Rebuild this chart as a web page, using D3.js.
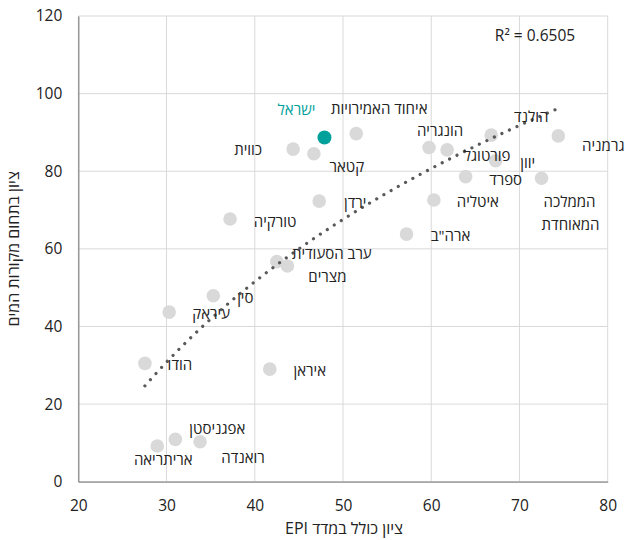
<!DOCTYPE html>
<html><head><meta charset="utf-8">
<script src="https://cdn.jsdelivr.net/npm/d3@7"></script>
<style>
html,body{margin:0;padding:0;background:#fff;}
svg{display:block;font-family:"Open Sans","DejaVu Sans",sans-serif;}
</style></head>
<body>
<svg id="chart" width="625" height="540"></svg>
<script>
// ---- data ----
const countries = ["ישראל","כווית","קטאר","איחוד האמירויות","הונגריה","פורטוגל","הולנד","יוון","גרמניה","ספרד","הממלכה המאוחדת","איטליה","ארה\"ב","ירדן","טורקיה","ערב הסעודית","מצרים","סין","עיראק","הודו","איראן","אפגניסטן","רואנדה","אריתריאה"];
const epiScore   = [47.9, 44.35, 46.7, 51.5, 59.75, 61.8, 66.8, 67.3, 74.4, 63.9, 72.5, 60.3, 57.2, 47.3, 37.2, 42.5, 43.7, 35.3, 30.3, 27.55, 41.7, 31.0, 33.8, 28.95];
const waterScore = [88.7, 85.7, 84.5, 89.7, 86.1, 85.5, 89.3, 82.7, 89.1, 78.6, 78.2, 72.6, 63.8, 72.3, 67.7, 56.7, 55.6, 47.9, 43.7, 30.5, 29.0, 10.9, 10.3, 9.2];
const highlight = "ישראל";
const xTicks = [20, 30, 40, 50, 60, 70, 80];
const yTicks = [0, 20, 40, 60, 80, 100, 120];
const xTitle = "ציון כולל במדד EPI";
const yTitle = "ציון בתחום מקורות המים";
const r2Label = "R² = 0.6505";

// ---- label placement (layout only) ----
const labelOffsets = {
  "ישראל": [[-28,-28]],
  "כווית": [[-45,0]],
  "קטאר": [[33,12]],
  "איחוד האמירויות": [[23,-26]],
  "הונגריה": [[11,-18]],
  "פורטוגל": [[40,5]],
  "הולנד": [[40,-19]],
  "יוון": [[32,1]],
  "גרמניה": [[45,9]],
  "ספרד": [[40,2]],
  "הממלכה המאוחדת": [[28,23],[29,46]],
  "איטליה": [[44,1]],
  "ארה\"ב": [[44,1]],
  "ירדן": [[36,1]],
  "טורקיה": [[45,2]],
  "ערב הסעודית": [[55,-9]],
  "מצרים": [[40,10]],
  "סין": [[32,1]],
  "עיראק": [[42,1]],
  "הודו": [[35,1]],
  "איראן": [[40,1]],
  "אפגניסטן": [[42,-11]],
  "רואנדה": [[43,15]],
  "אריתריאה": [[6,13]]
};

const svg = d3.select("#chart");
const L = 78.3, R = 607.7, T = 16, B = 481.7;
const x = d3.scaleLinear().domain([20, 80]).range([L, R]);
const y = d3.scaleLinear().domain([0, 120]).range([B, T]);

// gridlines
svg.append("g").selectAll("line").data(xTicks).join("line")
  .attr("x1", d => x(d)).attr("x2", d => x(d)).attr("y1", T).attr("y2", B)
  .attr("stroke", "#d9d9d9").attr("stroke-width", 1);
svg.append("g").selectAll("line").data(yTicks).join("line")
  .attr("x1", L).attr("x2", R).attr("y1", d => y(d)).attr("y2", d => y(d))
  .attr("stroke", "#d9d9d9").attr("stroke-width", 1);

// axes
const xAxis = svg.append("g").attr("transform", `translate(0,${B})`)
  .call(d3.axisBottom(x).tickValues(xTicks).tickSize(0).tickPadding(18));
xAxis.select(".domain").attr("stroke", "#8c8c8c").attr("stroke-width", 1.3);
xAxis.selectAll("text").attr("font-size", 15.5).attr("fill", "#222").attr("font-family", "Open Sans");

const yAxis = svg.append("g").attr("transform", `translate(${L},0)`)
  .call(d3.axisLeft(y).tickValues(yTicks).tickSize(0).tickPadding(16));
yAxis.select(".domain").attr("stroke", "#8c8c8c").attr("stroke-width", 1.3);
yAxis.selectAll("text").attr("font-size", 15.5).attr("fill", "#222").attr("font-family", "Open Sans");

// points
const pts = countries.map((c, i) => ({name: c, x: epiScore[i], y: waterScore[i]}));
svg.append("g").selectAll("circle").data(pts.filter(d => d.name !== highlight)).join("circle")
  .attr("cx", d => x(d.x)).attr("cy", d => y(d.y)).attr("r", 6.8).attr("fill", "#d9d9d9");

// logarithmic trendline (least squares on ln x)
const lx = pts.map(d => Math.log(d.x)), ly = pts.map(d => d.y);
const mx = d3.mean(lx), my = d3.mean(ly);
const a = d3.sum(lx.map((v, i) => (v - mx) * (ly[i] - my))) / d3.sum(lx.map(v => (v - mx) ** 2));
const b = my - a * mx;
const [xmin, xmax] = d3.extent(epiScore);
const trend = d3.range(0, 101).map(i => {
  const xv = xmin + (xmax - xmin) * i / 100;
  return [xv, a * Math.log(xv) + b];
});
svg.append("path").datum(trend)
  .attr("d", d3.line().x(d => x(d[0])).y(d => y(d[1])))
  .attr("fill", "none").attr("stroke", "#595959").attr("stroke-width", 3.2)
  .attr("stroke-linecap", "round").attr("stroke-dasharray", "0.01 8.3");

// highlight point on top
svg.append("g").selectAll("circle").data(pts.filter(d => d.name === highlight)).join("circle")
  .attr("cx", d => x(d.x)).attr("cy", d => y(d.y)).attr("r", 7).attr("fill", "#00a19a");

// labels
const lab = svg.append("g").attr("font-size", 15);
pts.forEach(d => {
  const words = d.name === "הממלכה המאוחדת" ? ["הממלכה", "המאוחדת"] : [d.name];
  const offs = labelOffsets[d.name];
  words.forEach((w, k) => {
    lab.append("text")
      .attr("x", x(d.x) + offs[k][0]).attr("y", y(d.y) + offs[k][1])
      .attr("text-anchor", "middle").attr("dominant-baseline", "central")
      .attr("direction", "rtl")
      .attr("fill", d.name === highlight ? "#00a19a" : "#222")
      .text(w);
  });
});

// R^2
svg.append("text").attr("x", 535).attr("y", 35).attr("text-anchor", "middle")
  .attr("dominant-baseline", "central").attr("font-size", 15.5).attr("fill", "#222").text(r2Label);

// axis titles
svg.append("text").attr("x", 344).attr("y", 528).attr("text-anchor", "middle")
  .attr("dominant-baseline", "central").attr("direction", "rtl").attr("font-size", 16).attr("fill", "#222").text(xTitle);
svg.append("text").attr("transform", `translate(13,${(T + B) / 2}) rotate(-90)`)
  .attr("text-anchor", "middle").attr("dominant-baseline", "central").attr("direction", "rtl")
  .attr("font-size", 16).attr("fill", "#222").text(yTitle);
</script>
</body></html>
